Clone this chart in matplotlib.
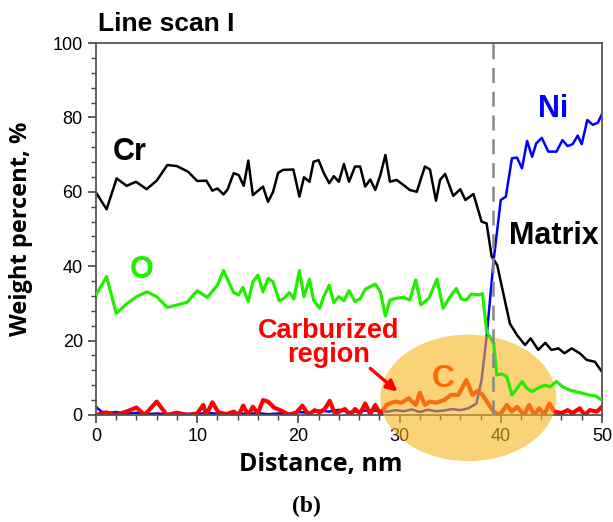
import matplotlib
matplotlib.use("Agg")
import matplotlib.pyplot as plt
from matplotlib.patches import Ellipse
from matplotlib.ticker import MultipleLocator

# Cr profile (black)
cr_x = [0, 1.05, 2.04, 3.03, 3.95, 5.0, 6.0, 7.05, 8.0, 9.1, 10.0, 10.9, 11.5, 12.0, 12.6,
        13.0, 13.6, 14.1, 14.6, 15.05, 15.5, 16.5, 17.0, 17.5, 18.0, 18.5, 19.5, 20.1,
        20.55, 21.1, 21.5, 22.0, 22.5, 23.05, 23.5, 24.0, 24.5, 25.0, 25.6, 26.1, 26.6,
        27.1, 27.6, 28.1, 28.6, 29.05, 29.7, 30.4, 31.0, 31.7, 32.5, 33.0, 33.6, 34.0,
        34.5, 35.3, 36.0, 36.5, 37.3, 38.1, 38.6, 39.1, 39.65, 40.25, 40.9, 41.6, 42.4,
        42.95, 43.7, 44.4, 45.0, 45.7, 46.3, 47.0, 47.8, 48.5, 49.3, 50.0]
cr_y = [59.8, 55.3, 63.6, 61.6, 62.7, 60.7, 63.0, 67.2, 66.9, 65.4, 62.9, 63.0, 60.3, 60.9,
        59.3, 60.6, 65.0, 64.5, 61.6, 68.4, 59.1, 61.4, 57.3, 60.0, 65.1, 65.9, 66.0, 58.7,
        63.9, 62.7, 68.1, 68.5, 65.1, 62.3, 64.2, 62.7, 67.5, 62.7, 66.8, 66.8, 61.4, 63.3,
        60.5, 64.5, 69.9, 62.7, 63.2, 61.8, 60.5, 60.0, 66.8, 66.0, 57.6, 63.2, 64.8, 58.9,
        60.7, 57.8, 59.4, 52.0, 51.5, 42.6, 40.3, 32.7, 24.6, 21.5, 18.8, 20.6, 17.5, 19.4,
        17.5, 17.9, 16.6, 17.9, 16.6, 14.8, 14.3, 11.6]

# O profile (green)
o_x = [0, 1.05, 2.0, 3.0, 4.0, 5.05, 6.0, 7.05, 8.05, 9.0, 10.0, 11.0, 12.0, 12.6, 13.6,
       14.1, 14.5, 15.05, 15.5, 16.0, 16.5, 17.0, 17.5, 18.1, 18.5, 19.1, 19.55, 20.1,
       20.55, 21.1, 21.5, 22.1, 22.5, 23.05, 23.5, 24.0, 24.5, 25.0, 25.6, 26.1, 26.6,
       27.6, 28.1, 28.6, 29.05, 29.7, 30.4, 31.0, 31.6, 32.1, 32.9, 33.7, 34.3, 34.9,
       35.6, 36.1, 36.6, 37.1, 37.8, 38.2, 38.6, 39.3, 39.6, 40.1, 40.6, 41.1, 41.6,
       42.1, 42.6, 43.1, 43.6, 44.3, 44.9, 45.5, 46.1, 46.8, 47.4, 48.1, 48.7, 49.4, 50.0]
o_y = [32.3, 37.2, 27.3, 29.8, 31.8, 33.1, 31.8, 28.9, 29.6, 30.3, 33.4, 31.6, 34.9, 38.8,
       32.9, 32.3, 34.3, 30.5, 35.8, 37.6, 33.1, 36.7, 35.8, 30.7, 31.2, 32.9, 31.2, 38.8,
       31.8, 36.5, 30.9, 28.7, 31.8, 34.9, 30.2, 31.8, 30.7, 33.4, 30.5, 31.2, 33.8, 35.2,
       33.1, 26.6, 30.9, 31.4, 31.6, 30.9, 36.3, 29.6, 31.4, 36.5, 28.7, 31.4, 34.0, 31.2,
       30.9, 32.5, 32.3, 32.6, 22.4, 19.3, 10.8, 11.0, 10.3, 5.4, 7.1, 9.0, 7.1, 6.3, 7.1,
       8.0, 7.6, 9.0, 7.6, 6.7, 6.3, 5.8, 5.4, 5.1, 4.0]

# Ni profile (blue)
ni_x = [0, 0.5, 1.0, 2.0, 3.0, 4.0, 5.0, 6.0, 7.0, 8.0, 9.0, 10.0, 11.0, 12.0, 13.0, 14.0,
        15.0, 16.0, 17.0, 18.0, 19.0, 20.0, 21.0, 22.0, 23.0, 24.0, 25.0, 26.0, 27.0,
        28.0, 28.8, 29.6, 30.4, 31.2, 32.0, 32.8, 33.6, 34.4, 35.2, 36.0, 36.8, 37.6,
        38.1, 38.6, 39.3, 40.0, 40.5, 41.1, 41.6, 42.1, 42.6, 43.1, 43.5, 44.05, 44.7,
        45.5, 46.1, 46.6, 47.1, 47.6, 48.0, 48.55, 49.1, 49.6, 50.0]
ni_y = [2.2, 1.0, 0.5, 0.8, 0.3, 0.6, 0.2, 0.4, 0.2, 0.5, 0.3, 0.2, 0.6, 0.3, 0.5, 0.4,
        0.3, 0.5, 0.2, 0.4, 0.3, 0.8, 0.6, 1.2, 0.9, 1.4, 0.8, 1.0, 1.3, 1.1, 0.9, 1.3,
        1.0, 1.5, 0.8, 1.4, 1.0, 1.2, 1.6, 1.3, 1.8, 3.1, 9.4, 21.0, 41.7, 57.8, 58.7,
        69.0, 69.2, 66.3, 73.7, 69.4, 73.0, 74.5, 70.8, 70.8, 73.9, 72.3, 72.8, 75.1,
        72.8, 79.3, 78.0, 78.6, 80.9]

# C profile (red)
c_x = [0, 1.0, 2.0, 3.0, 4.0, 4.8, 6.0, 7.0, 8.0, 9.0, 10.0, 10.6, 10.9, 11.5, 12.1, 12.9,
       13.6, 14.1, 14.55, 15.05, 15.5, 16.0, 16.5, 17.0, 17.6, 18.5, 19.1, 19.8, 20.4,
       21.0, 21.6, 22.1, 22.6, 23.1, 23.6, 24.1, 24.6, 25.1, 25.6, 26.1, 26.6, 27.1,
       27.6, 28.1, 28.7, 29.5, 30.2, 30.9, 31.6, 32.0, 32.5, 33.0, 33.6, 34.4, 35.1,
       35.8, 36.6, 37.2, 37.7, 38.2, 38.7, 39.3, 39.9, 40.6, 41.1, 41.6, 42.3, 42.8,
       43.3, 43.8, 44.3, 44.8, 45.3, 46.0, 46.6, 47.1, 47.8, 48.3, 48.8, 49.5, 50.0]
c_y = [0.0, 0.7, 0.0, 0.9, 2.0, 0.0, 3.6, 0.0, 0.6, 0.0, 0.4, 2.7, 0.0, 3.4, 0.7, 0.2,
       0.9, 0.0, 2.5, 0.0, 2.2, 0.4, 4.0, 3.6, 2.0, 0.9, 0.0, 0.7, 2.5, 0.0, 1.3, 0.7,
       1.6, 3.8, 0.4, 1.0, 1.6, 0.0, 1.6, 0.4, 3.1, 0.2, 2.7, 0.2, 2.7, 3.6, 3.3, 4.5,
       2.7, 6.0, 2.7, 3.6, 3.3, 4.0, 5.4, 5.4, 9.4, 5.4, 6.5, 5.4, 3.3, 0.9, 0.0, 2.7,
       0.9, 2.2, 0.0, 2.7, 0.0, 1.8, 0.0, 3.1, 0.9, 0.5, 1.3, 0.5, 1.8, 0.0, 1.3, 0.9, 2.2]

interface_x = 39.2


def main():
    fig = plt.figure(figsize=(6.13, 5.22), dpi=100)
    ax = fig.add_axes([0.1566, 0.205, 0.8254, 0.7126])

    ax.plot(ni_x, ni_y, color="#0000ff", lw=1.8, zorder=2)
    ax.plot(c_x, c_y, color="#ff0000", lw=3.0, zorder=2)
    ax.plot(cr_x, cr_y, color="black", lw=1.8, zorder=2)

    ell = Ellipse((36.8, 4.6), 17.4, 34.0, facecolor=(0.97, 0.71, 0.12),
                  edgecolor="none", alpha=0.6, clip_on=False, zorder=3)
    ax.add_patch(ell)

    ax.plot(o_x, o_y, color="#22ee00", lw=2.3, zorder=4)
    ax.axvline(interface_x, color="#888888", lw=1.8, ls=(0, (6, 3.5)), zorder=4)

    ax.set_xlim(0, 50)
    ax.set_ylim(0, 100)
    ax.xaxis.set_major_locator(MultipleLocator(10))
    ax.xaxis.set_minor_locator(MultipleLocator(2))
    ax.yaxis.set_major_locator(MultipleLocator(20))
    ax.yaxis.set_minor_locator(MultipleLocator(4))
    ax.tick_params(which="major", direction="out", length=6, width=1.2, color="#444444",
                   labelsize=13)
    ax.tick_params(which="minor", direction="out", length=3.5, width=1.0, color="#444444")
    for lab in ax.get_xticklabels() + ax.get_yticklabels():
        lab.set_fontfamily("Liberation Sans")
    for sp in ax.spines.values():
        sp.set_color("#555555")
        sp.set_linewidth(1.3)

    ax.set_xlabel("Distance, nm", fontsize=18, fontweight="bold", family="Open Sans")
    ax.xaxis.set_label_coords(0.445, -0.1)
    ax.set_ylabel("Weight percent, %", fontsize=17, fontweight="bold", family="Open Sans")
    ax.yaxis.set_label_coords(-0.125, 0.5)

    tf = dict(fontweight="bold", family="Liberation Sans", fontsize=22)
    ax.text(1.7, 68.5, "Cr", color="black", **tf)
    ax.text(3.3, 36.8, "O", color="#22ee00", **tf)
    ax.text(43.7, 80, "Ni", color="#0000ff", **tf)
    ax.text(40.8, 46, "Matrix", color="black", **tf)
    ax.text(23.0, 19.4, "Carburized\nregion", color="#ff0000", ha="center", va="center",
            linespacing=0.9, fontweight="bold", family="Liberation Sans", fontsize=19.5)
    ax.text(33.2, 7.5, "C", color="#ff6a00", zorder=5, fontweight="bold",
            family="Liberation Sans", fontsize=23)
    ax.annotate("", xy=(30.0, 5.8), xytext=(26.9, 13.0),
                arrowprops=dict(arrowstyle="-|>", color="#ff0000", lw=2.4,
                                mutation_scale=16), zorder=5)

    fig.text(0.16, 0.94, "Line scan I", fontsize=19, fontweight="bold",
             family="Liberation Sans")
    fig.text(0.5, 0.02, "(b)", fontsize=17, fontweight="bold", family="Liberation Serif",
             ha="center")

    fig.savefig("out.png", dpi=100)
    plt.close(fig)


if __name__ == '__main__':
    main()
